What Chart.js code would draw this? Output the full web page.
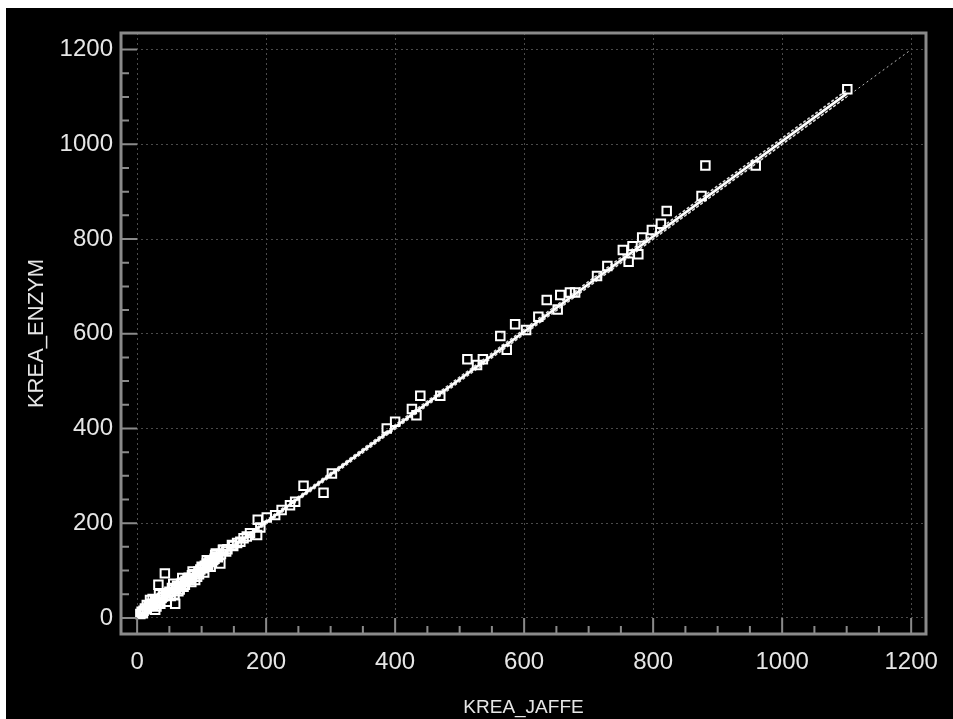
<!DOCTYPE html>
<html>
<head>
<meta charset="utf-8">
<script src="https://cdn.jsdelivr.net/npm/chart.js@4.4.1/dist/chart.umd.min.js"></script>
<style>
  html, body { margin: 0; padding: 0; background: #fff; }
  #wrap { position: absolute; left: 6px; top: 8px; width: 947px; height: 711px; background: #000; }
</style>
</head>
<body>
<div id="wrap"><canvas id="scatter" width="947" height="711"></canvas></div>
<script>
// valori (KREA_JAFFE vs KREA_ENZYM)
const jaffe = [1101, 881, 959, 875, 821, 812, 798, 783, 768, 753, 777, 762, 729, 713, 679, 671, 656, 635, 652, 622,
  586, 603, 563, 573, 512, 536, 527, 470, 439, 426, 433, 400, 387, 302, 258, 289, 245, 237, 224, 214,
  201, 187, 191, 175, 186, 160, 149, 133, 121,
  43, 33, 59, 7, 28, 20, 41, 54, 72, 82, 93, 100, 108, 124, 134, 147, 116, 129, 90, 64, 46, 15,
  10, 12, 15, 18, 22, 25, 28, 30, 35, 38, 40, 45, 48, 50, 55, 60, 62, 65, 68, 70, 75, 78, 80, 85,
  88, 95, 98, 102, 105, 110, 112, 118, 120, 125, 130, 138, 140, 155, 165, 170, 5, 9, 30, 36, 52,
  58, 66, 74, 84, 96, 104, 114, 24, 34, 56, 70, 86, 108, 122];
const enzym = [1116, 955, 955, 891, 859, 832, 819, 803, 785, 777, 768, 752, 743, 722, 687, 687, 682, 671, 651, 636,
  620, 608, 595, 566, 546, 546, 534, 469, 469, 441, 428, 414, 400, 305, 279, 264, 245, 238, 228, 217,
  212, 207, 191, 179, 175, 161, 152, 144, 133,
  94, 70, 30, 13, 17, 38, 52, 63, 66, 80, 87, 108, 115, 129, 144, 154, 119, 115, 80, 56, 34, 27,
  15, 20, 18, 25, 30, 28, 35, 32, 38, 42, 45, 48, 52, 55, 60, 62, 68, 65, 72, 75, 78, 82, 85, 90,
  92, 98, 102, 105, 110, 112, 118, 122, 125, 128, 135, 140, 145, 158, 168, 172, 8, 10, 24, 30, 46,
  50, 60, 70, 76, 92, 96, 108, 40, 50, 72, 84, 98, 122, 136];

// retta di regressione, limiti di confidenza e bisettrice (estremi)
const regX = [5, 1100];
const regY = [6, 1107];
const upperY = [9, 1114];
const lowerY = [3, 1100];
const identX = [0, 1200];
const identY = [0, 1200];

const axisTicks = [0, 200, 400, 600, 800, 1000, 1200];

const points = jaffe.map((x, i) => ({ x: x, y: enzym[i] }));
const toXY = (xs, ys) => xs.map((x, i) => ({ x: x, y: ys[i] }));

// cornice e tacche interne
const framePlugin = {
  id: 'frame',
  afterDraw(chart) {
    const { ctx, chartArea: a, scales } = chart;
    ctx.save();
    ctx.strokeStyle = '#8a8a8a';
    ctx.lineWidth = 2;
    for (let v = 0; v <= 1200; v += 50) {
      const len = v % 200 === 0 ? 16 : 8;
      const px = scales.x.getPixelForValue(v);
      const py = scales.y.getPixelForValue(v);
      ctx.beginPath();
      ctx.moveTo(px, a.bottom);
      ctx.lineTo(px, a.bottom - len);
      ctx.moveTo(a.left, py);
      ctx.lineTo(a.left + len, py);
      ctx.stroke();
    }
    ctx.lineWidth = 3;
    ctx.strokeRect(a.left, a.top, a.right - a.left, a.bottom - a.top);
    ctx.restore();
  }
};

const gridCfg = { color: '#4a4a4a', lineWidth: 1, drawTicks: false, tickLength: 0 };
const fam = 'Liberation Sans, Arial, sans-serif';
const fontTick = { family: fam, size: 24 };

new Chart(document.getElementById('scatter'), {
  type: 'scatter',
  data: {
    datasets: [{
      label: 'identity',
      type: 'line',
      data: toXY(identX, identY),
      borderColor: '#bdbdbd',
      borderWidth: 1,
      borderDash: [2, 3],
      pointRadius: 0,
      order: 4
    }, {
      label: 'upper',
      type: 'line',
      data: toXY(regX, upperY),
      borderColor: '#dddddd',
      borderWidth: 1.5,
      borderDash: [3, 2],
      pointRadius: 0,
      order: 3
    }, {
      label: 'lower',
      type: 'line',
      data: toXY(regX, lowerY),
      borderColor: '#dddddd',
      borderWidth: 1.5,
      borderDash: [3, 2],
      pointRadius: 0,
      order: 3
    }, {
      label: 'regression',
      type: 'line',
      data: toXY(regX, regY),
      borderColor: '#ffffff',
      borderWidth: 2.5,
      pointRadius: 0,
      order: 2
    }, {
      label: 'KREA',
      data: points,
      pointStyle: 'rect',
      pointRadius: 6,
      borderColor: '#ffffff',
      borderWidth: 2,
      backgroundColor: 'rgba(0,0,0,0)',
      order: 1
    }]
  },
  options: {
    responsive: false,
    animation: false,
    layout: { padding: { left: 0, top: 25, right: 27, bottom: 0 } },
    plugins: { legend: { display: false }, tooltip: { enabled: false } },
    scales: {
      x: {
        type: 'linear',
        min: -25,
        max: 1223,
        grid: gridCfg,
        border: { display: false, dash: [2, 3] },
        afterBuildTicks: s => { s.ticks = axisTicks.map(v => ({ value: v })); },
        afterFit: s => { s.height = 85; },
        ticks: { color: '#e6e6e6', font: fontTick, padding: 14, maxRotation: 0, callback: v => String(v) },
        title: { display: true, text: 'KREA_JAFFE', color: '#e6e6e6', font: { family: fam, size: 19 }, padding: { top: 6, bottom: 0 } }
      },
      y: {
        type: 'linear',
        min: -34,
        max: 1235,
        grid: gridCfg,
        border: { display: false, dash: [2, 3] },
        afterBuildTicks: s => { s.ticks = axisTicks.map(v => ({ value: v })); },
        afterFit: s => { s.width = 115; },
        ticks: { color: '#e6e6e6', font: fontTick, padding: 8, callback: v => String(v) },
        title: { display: true, text: 'KREA_ENZYM', color: '#e6e6e6', font: { family: fam, size: 22 }, padding: { top: 18, bottom: 0 } }
      }
    }
  },
  plugins: [framePlugin]
});
</script>
</body>
</html>
